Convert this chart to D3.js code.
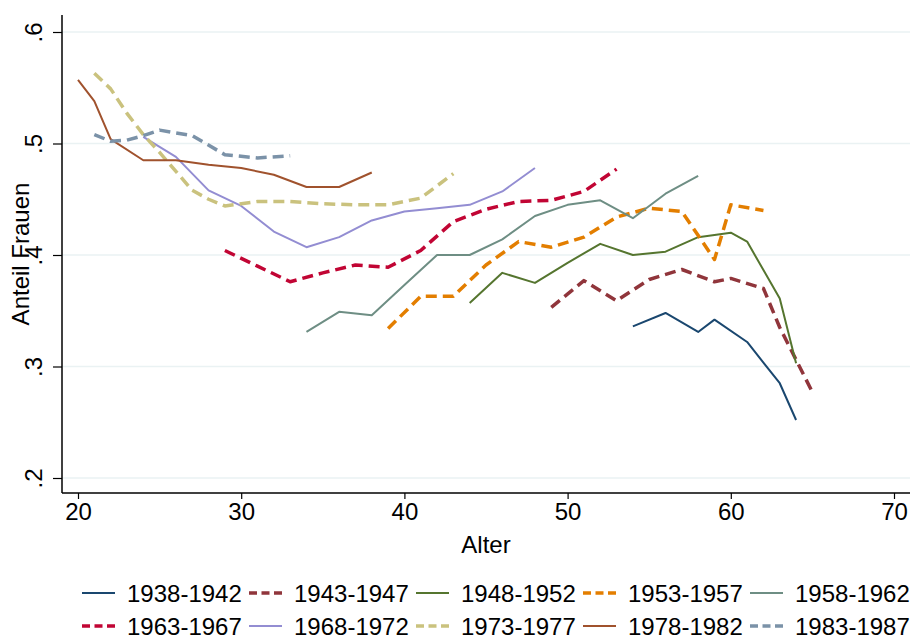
<!DOCTYPE html>
<html>
<head>
<meta charset="utf-8">
<script src="https://cdn.jsdelivr.net/npm/d3@7"></script>
<style>
  html, body { margin: 0; padding: 0; background: #fff; }
  text { font-family: "Liberation Sans", Arial, sans-serif; fill: #000; }
</style>
</head>
<body>
<div id="chart"></div>
<script>
// ── Data: share of women by age, per birth cohort ──
const cohortLabels = ["1938-1942","1943-1947","1948-1952","1953-1957","1958-1962",
                      "1963-1967","1968-1972","1973-1977","1978-1982","1983-1987"];

const c1938 = [[54,.336],[56,.348],[58,.331],[59,.342],[61,.322],[63,.285],[64,.252]];
const c1943 = [[49,.353],[51,.377],[53,.359],[55,.378],[57,.387],[59,.376],[60,.379],[62,.370],[63,.335],[64,.306],[65,.277]];
const c1948 = [[44,.357],[46,.384],[48,.375],[50,.393],[52,.410],[54,.400],[56,.403],[58,.416],[60,.420],[61,.412],[63,.361],[64,.303]];
const c1953 = [[39,.334],[41,.363],[43,.363],[45,.391],[47,.412],[49,.407],[51,.416],[53,.434],[55,.442],[57,.439],[59,.396],[60,.445],[62,.440]];
const c1958 = [[34,.331],[36,.349],[38,.346],[40,.373],[42,.400],[44,.400],[46,.414],[48,.435],[50,.445],[52,.449],[54,.433],[56,.455],[58,.471]];
const c1963 = [[29,.404],[31,.390],[33,.376],[35,.384],[37,.391],[39,.389],[41,.404],[43,.430],[45,.441],[47,.448],[49,.449],[51,.457],[53,.477]];
const c1968 = [[24,.506],[26,.488],[28,.458],[30,.444],[32,.421],[34,.407],[36,.416],[38,.431],[40,.439],[42,.442],[44,.445],[46,.457],[48,.478]];
const c1973 = [[21,.563],[22,.549],[23,.527],[24,.508],[25,.492],[26,.475],[27,.458],[28,.450],[29,.444],[31,.448],[33,.448],[35,.446],[37,.445],[39,.445],[41,.451],[43,.473]];
const c1978 = [[20,.557],[21,.538],[22,.504],[24,.485],[26,.485],[28,.481],[30,.478],[32,.472],[34,.461],[36,.461],[38,.474]];
const c1983 = [[21,.508],[22,.502],[23,.503],[24,.507],[25,.512],[27,.507],[29,.490],[31,.487],[33,.489]];

const cohortData = [c1938, c1943, c1948, c1953, c1958, c1963, c1968, c1973, c1978, c1983];

const xTicks = [20, 30, 40, 50, 60, 70];
const yTicks = [.2, .3, .4, .5, .6];

// ── Styles (Stata s2color) ──
const COLORS = ["#1a476f","#90353b","#55752f","#e37e00","#6e8e84",
                "#c10534","#938dd2","#cac27e","#a0522d","#7b92a8"];
const DASHED = [false,true,false,true,false,true,false,true,false,true];

const W = 912, H = 640;
const FONT = 24;

const svg = d3.select("#chart").append("svg")
  .attr("width", W).attr("height", H)
  .style("background", "#fff");

const x = d3.scaleLinear().domain([20, 70]).range([78, 894]);
const y = d3.scaleLinear().domain([.2, .6]).range([478, 32]);

const plotLeft = 62, plotRight = 910, plotTop = 15, plotBottom = 493;

// Grid
svg.append("g").selectAll("line").data(yTicks).join("line")
  .attr("x1", plotLeft).attr("x2", plotRight)
  .attr("y1", d => y(d)).attr("y2", d => y(d))
  .attr("stroke", "#eaf2f3").attr("stroke-width", 1.5);

// Lines
const line = d3.line().x(d => x(d[0])).y(d => y(d[1]));
svg.append("g").selectAll("path").data(cohortData).join("path")
  .attr("d", line)
  .attr("fill", "none")
  .attr("stroke", (d, i) => COLORS[i])
  .attr("stroke-width", (d, i) => DASHED[i] ? 3.5 : 2)
  .attr("stroke-dasharray", (d, i) => DASHED[i] ? "11,6" : null)
  .attr("stroke-linejoin", "round");

// X axis
const xAxis = svg.append("g").attr("transform", `translate(0,${plotBottom})`)
  .call(d3.axisBottom(x).tickValues(xTicks).tickSize(6).tickPadding(4).tickFormat(d3.format("d")));
xAxis.select(".domain").remove();
xAxis.append("line").attr("x1", plotLeft).attr("x2", plotRight)
  .attr("stroke", "#000").attr("stroke-width", 1.5);
xAxis.selectAll(".tick line").attr("stroke", "#000").attr("stroke-width", 1.2);
xAxis.selectAll(".tick text").attr("font-size", FONT).attr("fill", "#000")
  .attr("font-family", "'Liberation Sans', Arial, sans-serif");

svg.append("text").attr("x", (x(20) + x(70)) / 2).attr("y", 553)
  .attr("text-anchor", "middle").attr("font-size", FONT).text("Alter");

// Y axis (labels rotated, as Stata does)
const yAxis = svg.append("g").attr("transform", `translate(${plotLeft},0)`)
  .call(d3.axisLeft(y).tickValues(yTicks).tickSize(9).tickFormat(d => String(d).replace("0.", ".")));
yAxis.select(".domain").remove();
yAxis.append("line").attr("y1", plotTop).attr("y2", plotBottom)
  .attr("stroke", "#000").attr("stroke-width", 1.5);
yAxis.selectAll(".tick line").attr("stroke", "#000").attr("stroke-width", 1.2);
yAxis.selectAll(".tick text")
  .attr("font-size", FONT).attr("fill", "#000")
  .attr("font-family", "'Liberation Sans', Arial, sans-serif")
  .attr("x", null).attr("dy", null)
  .attr("text-anchor", "middle")
  .attr("transform", "translate(-20,0) rotate(-90)");

svg.append("text")
  .attr("transform", `translate(29,${(plotTop + plotBottom) / 2}) rotate(-90)`)
  .attr("text-anchor", "middle").attr("font-size", FONT).text("Anteil Frauen");

// Legend
const legX = [82, 249, 416, 583, 750];
const legY = [593, 626];
const leg = svg.append("g").selectAll("g").data(cohortLabels).join("g")
  .attr("transform", (d, i) => `translate(${legX[i % 5]},${legY[Math.floor(i / 5)]})`);
leg.append("line").attr("x1", 0).attr("x2", 33).attr("y1", 0).attr("y2", 0)
  .attr("stroke", (d, i) => COLORS[i])
  .attr("stroke-width", (d, i) => DASHED[i] ? 3.5 : 2)
  .attr("stroke-dasharray", (d, i) => DASHED[i] ? "8,4.5" : null);
leg.append("text").attr("x", 45).attr("dy", "0.36em")
  .attr("font-size", FONT).text(d => d);
</script>
</body>
</html>
